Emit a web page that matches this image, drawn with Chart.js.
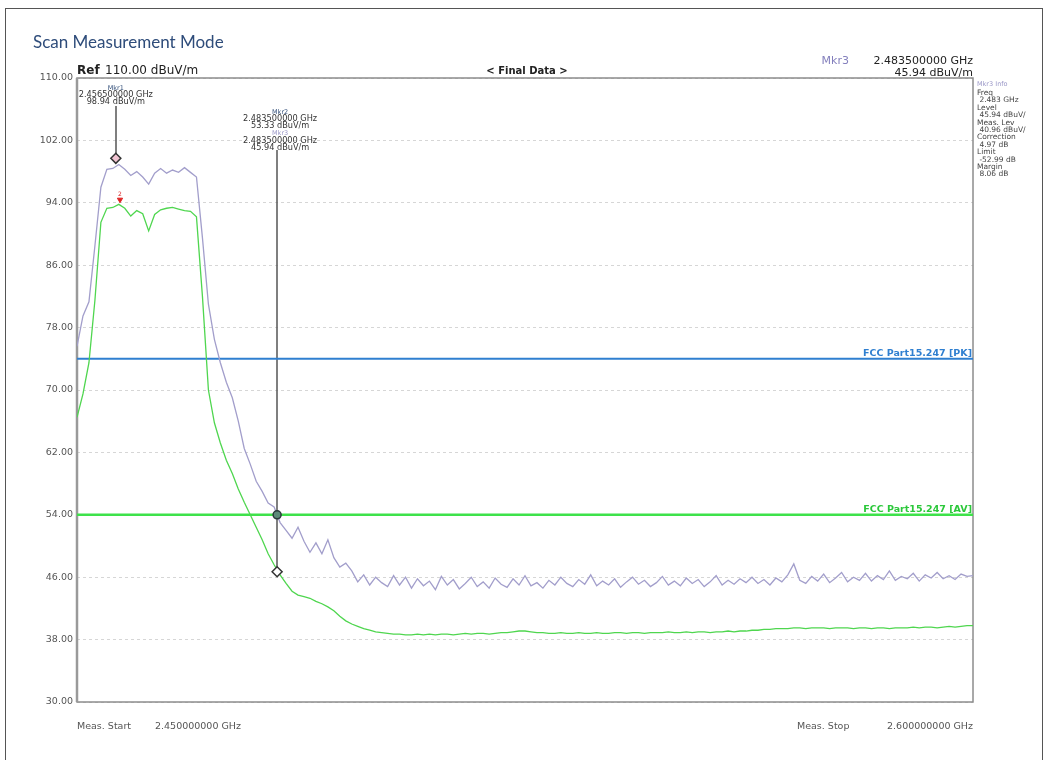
<!DOCTYPE html>
<html>
<head>
<meta charset="utf-8">
<script src="https://cdn.jsdelivr.net/npm/chart.js@4.4.1/dist/chart.umd.min.js"></script>
<style>
  body { margin: 0; background: #fff; }
  #wrap { width: 1048px; height: 760px; }
</style>
</head>
<body>
<div id="wrap"><canvas id="scan" width="1048" height="760"></canvas></div>
<script>
// sweep: 2.450 .. 2.600 GHz, 1 MHz per point
const FREQ_START = 2.45;
const FREQ_STEP = 0.001;

// peak detector trace (dBuV/m)
const peakTrace = [
    75.6, 79.5, 81.3, 88.5, 96.0, 98.3, 98.4, 98.9, 98.3, 97.5,
    98.0, 97.3, 96.4, 97.8, 98.4, 97.8, 98.2, 97.9, 98.5, 97.9,
    97.3, 89.5, 81.0, 76.5, 73.5, 71.0, 69.0, 66.0, 62.5, 60.5,
    58.3, 57.0, 55.5, 55.0, 53.0, 52.0, 51.0, 52.4, 50.6, 49.2,
    50.4, 49.0, 50.8, 48.5, 47.3, 47.8, 46.8, 45.4, 46.3, 45.0,
    46.0, 45.3, 44.8, 46.2, 45.0, 46.0, 44.6, 45.8, 44.9, 45.5,
    44.4, 46.1, 45.0, 45.7, 44.5, 45.2, 46.0, 44.8, 45.4, 44.6,
    45.9, 45.1, 44.7, 45.8, 45.0, 46.2, 44.9, 45.3, 44.6, 45.6,
    45.0, 46.0, 45.2, 44.8, 45.7, 45.1, 46.3, 44.9, 45.5, 45.0,
    45.8, 44.7, 45.4, 46.0, 45.1, 45.6, 44.8, 45.3, 46.1, 45.0,
    45.5, 44.9, 45.9, 45.2, 45.7, 44.8, 45.4, 46.2, 45.0, 45.6,
    45.1, 45.8, 45.3, 46.0, 45.2, 45.7, 45.0, 45.9, 45.4, 46.3,
    47.7, 45.6, 45.2, 46.1, 45.5, 46.4, 45.3, 45.9, 46.6, 45.4,
    46.0, 45.6, 46.5, 45.5, 46.2, 45.7, 46.8, 45.6, 46.1, 45.8,
    46.5, 45.5, 46.3, 45.9, 46.6, 45.8, 46.2, 45.7, 46.4, 46.1,
    46.2
];

// average detector trace (dBuV/m)
const avgTrace = [
    66.5, 69.5, 73.5, 81.5, 91.5, 93.3, 93.4, 93.8, 93.3, 92.3,
    93.0, 92.6, 90.4, 92.5, 93.1, 93.3, 93.4, 93.2, 93.0, 92.9,
    92.2, 82.0, 70.0, 65.8, 63.2, 61.0, 59.3, 57.3, 55.6, 54.0,
    52.4, 50.8, 49.0, 47.6, 46.3, 45.2, 44.2, 43.7, 43.5, 43.3,
    42.9, 42.6, 42.2, 41.7, 41.0, 40.4, 40.0, 39.7, 39.4, 39.2,
    39.0, 38.9, 38.8, 38.7, 38.7, 38.6, 38.6, 38.7, 38.6, 38.7,
    38.6, 38.7, 38.7, 38.6, 38.7, 38.8, 38.7, 38.8, 38.8, 38.7,
    38.8, 38.9, 38.9, 39.0, 39.1, 39.1, 39.0, 38.9, 38.9, 38.8,
    38.8, 38.9, 38.8, 38.8, 38.9, 38.8, 38.8, 38.9, 38.8, 38.8,
    38.9, 38.9, 38.8, 38.9, 38.9, 38.8, 38.9, 38.9, 38.9, 39.0,
    38.9, 38.9, 39.0, 38.9, 39.0, 39.0, 38.9, 39.0, 39.0, 39.1,
    39.0, 39.1, 39.1, 39.2, 39.2, 39.3, 39.3, 39.4, 39.4, 39.4,
    39.5, 39.5, 39.4, 39.5, 39.5, 39.5, 39.4, 39.5, 39.5, 39.5,
    39.4, 39.5, 39.5, 39.4, 39.5, 39.5, 39.4, 39.5, 39.5, 39.5,
    39.6, 39.5, 39.6, 39.6, 39.5, 39.6, 39.7, 39.6, 39.7, 39.8,
    39.8
];

const freqGHz = peakTrace.map((_, i) => +(FREQ_START + i * FREQ_STEP).toFixed(3));

// limit lines
const limitPK = 74;
const limitAV = 54;
const xRange = [2.45, 2.6];

// markers: freq, level where the symbol sits, label lines
const mkr1 = { f: 2.4565, y: 99.7, freq: '2.456500000 GHz', level: '98.94 dBuV/m' };
const mkr2 = { f: 2.4835, y: 54.0, freq: '2.483500000 GHz', level: '53.33 dBuV/m' };
const mkr3 = { f: 2.4835, y: 46.7, freq: '2.483500000 GHz', level: '45.94 dBuV/m' };
const avgPeakMark = { f: 2.4572, y: 94.4 };

const yTicks = { min: 30, max: 110, step: 8 };

const infoLines = ['Freq', ' 2.483 GHz', 'Level', ' 45.94 dBuV/', 'Meas. Lev', ' 40.96 dBuV/',
    'Correction', ' 4.97 dB', 'Limit', ' -52.99 dB', 'Margin', ' 8.06 dB'];

const FONT = 'DejaVu Sans';

const toXY = arr => arr.map((v, i) => ({ x: freqGHz[i], y: v }));

const decor = {
    id: 'decor',
    beforeDatasetsDraw(chart) {
        const { ctx, chartArea: a } = chart;
        ctx.save();
        ctx.strokeStyle = '#8c8c8c';
        ctx.lineWidth = 1.5;
        ctx.strokeRect(a.left, a.top, a.right - a.left, a.bottom - a.top);
        ctx.lineWidth = 2.5;
        ctx.strokeStyle = '#9a9a9a';
        ctx.beginPath();
        ctx.moveTo(a.left, a.top);
        ctx.lineTo(a.left, a.bottom);
        ctx.stroke();

        // marker stems
        const xs = chart.scales.x, ys = chart.scales.y;
        ctx.strokeStyle = '#555';
        ctx.lineWidth = 1.5;
        ctx.beginPath();
        ctx.moveTo(Math.round(xs.getPixelForValue(mkr1.f)), 106);
        ctx.lineTo(Math.round(xs.getPixelForValue(mkr1.f)), ys.getPixelForValue(mkr1.y));
        ctx.moveTo(Math.round(xs.getPixelForValue(mkr2.f)), 150);
        ctx.lineTo(Math.round(xs.getPixelForValue(mkr2.f)), ys.getPixelForValue(mkr3.y));
        ctx.stroke();
        ctx.restore();
    },
    afterDraw(chart) {
        const { ctx, chartArea: a } = chart;
        const xs = chart.scales.x, ys = chart.scales.y;
        ctx.save();

        // outer frame
        ctx.strokeStyle = '#555';
        ctx.lineWidth = 1;
        ctx.strokeRect(5.5, 8.5, 1037, 770);

        ctx.textBaseline = 'alphabetic';
        ctx.fillStyle = '#2e4c7a';
        ctx.font = '17px Lato';
        ctx.textAlign = 'left';
        ctx.fillText('Scan Measurement Mode', 33, 48);

        ctx.fillStyle = '#222';
        ctx.font = 'bold 12px ' + FONT;
        ctx.fillText('Ref', a.left, 74);
        ctx.font = '12px ' + FONT;
        ctx.fillText('110.00 dBuV/m', a.left + 28, 74);

        ctx.textAlign = 'center';
        ctx.font = 'bold 10px ' + FONT;
        ctx.fillText('< Final Data >', 527, 74);

        ctx.textAlign = 'right';
        ctx.font = '11px ' + FONT;
        ctx.fillText('2.483500000 GHz', a.right, 64);
        ctx.fillText('45.94 dBuV/m', a.right, 76);
        ctx.fillStyle = '#8480bd';
        ctx.fillText('Mkr3', 849, 64);

        // marker info panel
        ctx.textAlign = 'left';
        ctx.font = '6.5px ' + FONT;
        ctx.fillStyle = '#9b98c8';
        ctx.fillText('Mkr3 Info', a.right + 4, 86);
        ctx.font = '7.5px ' + FONT;
        ctx.fillStyle = '#444';
        infoLines.forEach((t, i) => ctx.fillText(t, a.right + 4, 95 + i * 7.4));

        // limit labels
        ctx.textAlign = 'right';
        ctx.font = 'bold 9.5px ' + FONT;
        ctx.fillStyle = '#2f7fd0';
        ctx.fillText('FCC Part15.247 [PK]', a.right - 1, ys.getPixelForValue(limitPK) - 3);
        ctx.fillStyle = '#2bc83a';
        ctx.fillText('FCC Part15.247 [AV]', a.right - 1, ys.getPixelForValue(limitAV) - 3);

        // marker labels
        ctx.textAlign = 'center';
        const x1 = xs.getPixelForValue(mkr1.f);
        ctx.font = '6.5px ' + FONT;
        ctx.fillStyle = '#34507a';
        ctx.fillText('Mkr1', x1, 90);
        ctx.font = '8.2px ' + FONT;
        ctx.fillStyle = '#333';
        ctx.fillText(mkr1.freq, x1, 97);
        ctx.fillText(mkr1.level, x1, 104);

        const x2 = xs.getPixelForValue(mkr2.f) + 3;
        ctx.font = '6.5px ' + FONT;
        ctx.fillStyle = '#34507a';
        ctx.fillText('Mkr2', x2, 114);
        ctx.font = '8.2px ' + FONT;
        ctx.fillStyle = '#333';
        ctx.fillText(mkr2.freq, x2, 121);
        ctx.fillText(mkr2.level, x2, 128);
        ctx.font = '6.5px ' + FONT;
        ctx.fillStyle = '#9b98c8';
        ctx.fillText('Mkr3', x2, 135);
        ctx.font = '8.2px ' + FONT;
        ctx.fillStyle = '#333';
        ctx.fillText(mkr3.freq, x2, 143);
        ctx.fillText(mkr3.level, x2, 150);

        // red avg marker number
        ctx.font = '6px ' + FONT;
        ctx.fillStyle = '#d22';
        ctx.fillText('2', xs.getPixelForValue(avgPeakMark.f), ys.getPixelForValue(avgPeakMark.y) - 4);

        // sweep range
        ctx.textAlign = 'left';
        ctx.font = '9.5px ' + FONT;
        ctx.fillStyle = '#555';
        ctx.fillText('Meas. Start', a.left, 729);
        ctx.fillText('2.450000000 GHz', 155, 729);
        ctx.fillText('Meas. Stop', 797, 729);
        ctx.textAlign = 'right';
        ctx.fillText('2.600000000 GHz', a.right, 729);
        ctx.restore();
    }
};

new Chart(document.getElementById('scan'), {
    type: 'line',
    data: {
        datasets: [
            {
                label: 'Mkr1', data: [{ x: mkr1.f, y: mkr1.y }], showLine: false, order: 0,
                pointStyle: 'rectRot', pointRadius: 5, backgroundColor: '#f2c4d2', borderColor: '#333', borderWidth: 1.5
            },
            {
                label: 'Mkr2', data: [{ x: mkr2.f, y: mkr2.y }], showLine: false, order: 0,
                pointStyle: 'circle', pointRadius: 4, backgroundColor: '#5c8a78', borderColor: '#2a3a3a', borderWidth: 1.5
            },
            {
                label: 'Mkr3', data: [{ x: mkr3.f, y: mkr3.y }], showLine: false, order: 0,
                pointStyle: 'rectRot', pointRadius: 5, backgroundColor: '#fff', borderColor: '#333', borderWidth: 1.5
            },
            {
                label: 'avg mark', data: [{ x: avgPeakMark.f, y: avgPeakMark.y }], showLine: false, order: 0,
                pointStyle: 'triangle', rotation: 180, pointRadius: 3, backgroundColor: '#d22', borderColor: '#d22', borderWidth: 1
            },
            {
                label: 'Peak', data: toXY(peakTrace), order: 1,
                borderColor: '#a29ecb', borderWidth: 1.3, pointRadius: 0, tension: 0
            },
            {
                label: 'Average', data: toXY(avgTrace), order: 2,
                borderColor: '#4fd64f', borderWidth: 1.3, pointRadius: 0, tension: 0
            },
            {
                label: 'FCC Part15.247 [PK]', data: xRange.map(x => ({ x, y: limitPK })), order: 3,
                borderColor: '#2f7fd0', borderWidth: 2, pointRadius: 0
            },
            {
                label: 'FCC Part15.247 [AV]', data: xRange.map(x => ({ x, y: limitAV })), order: 3,
                borderColor: '#3ee24a', borderWidth: 2.5, pointRadius: 0
            }
        ]
    },
    options: {
        responsive: false,
        animation: false,
        devicePixelRatio: 1,
        layout: { padding: { left: 0, top: 78, right: 75, bottom: 58 } },
        plugins: { legend: { display: false }, tooltip: { enabled: false } },
        scales: {
            x: { type: 'linear', min: xRange[0], max: xRange[1], display: false },
            y: {
                min: yTicks.min, max: yTicks.max,
                afterFit(scale) { scale.width = 77; },
                ticks: {
                    stepSize: yTicks.step, autoSkip: false, padding: 4,
                    color: '#555', font: { family: FONT, size: 9.5 },
                    callback: v => v.toFixed(2)
                },
                grid: { color: '#d6d6d6', drawTicks: false, lineWidth: 1 },
                border: { display: false, dash: [3, 3] }
            }
        }
    },
    plugins: [decor]
});
</script>
</body>
</html>
